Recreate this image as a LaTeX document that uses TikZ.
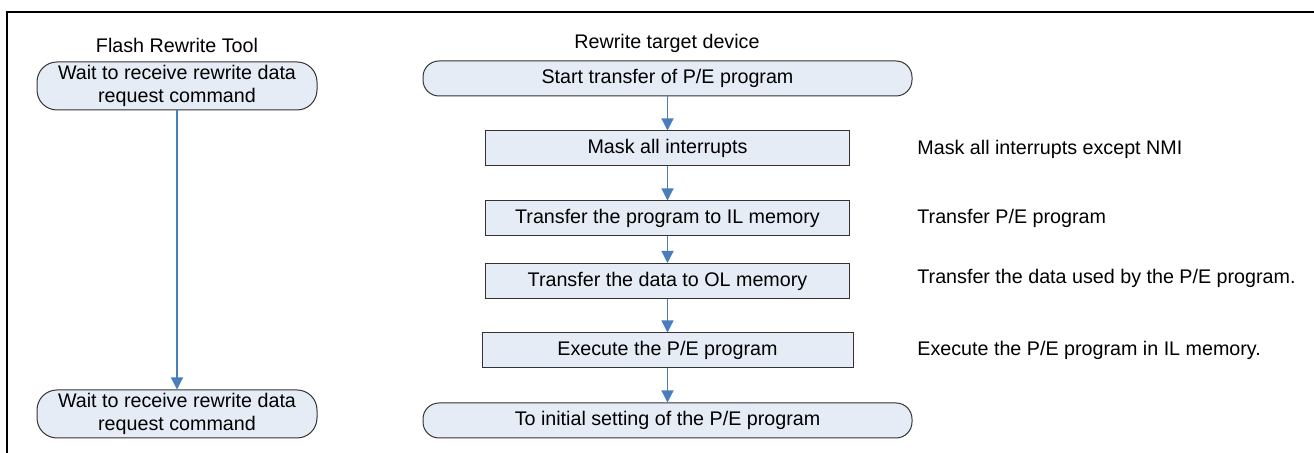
\documentclass[tikz,border=0pt]{standalone}
\usepackage{fontspec}
\setmainfont{Liberation Sans}
\usepackage{tikz}
\usetikzlibrary{arrows.meta,positioning}
\definecolor{boxfill}{HTML}{E6ECF6}
\definecolor{flowblue}{HTML}{4A7EBB}
\tikzstyle{flow}   =[draw=black!80, fill=boxfill, line width=0.5pt,
                     inner sep=0pt, minimum height=17.5pt, align=center,
                     font=\fontsize{9.85}{11.5}\selectfont]
\tikzstyle{term}   =[flow, rounded corners=8pt, minimum width=244.5pt]
\tikzstyle{wait}   =[flow, rounded corners=10pt, minimum width=140pt,
                     minimum height=24pt]
\tikzstyle{stepbox}=[flow, minimum width=182pt]
\tikzstyle{edge}   =[draw=flowblue, line width=0.6pt,
                     -{Triangle[length=6pt, width=6pt]}]
\tikzstyle{note}   =[anchor=west, inner sep=0pt,
                     font=\fontsize{9.85}{11.5}\selectfont]
\tikzstyle{title}  =[inner sep=0pt, font=\fontsize{9.85}{11.5}\selectfont]
\begin{document}
\begin{tikzpicture}[x=0.5pt, y=-0.5pt, node distance=35pt, on grid]
            \useasboundingbox (0,0) rectangle (1314,453);
            \draw[line width=1.1pt] (7,453) |- (1314,12);
            % tool side
            \node[title] (tooltitle) at (177,45) {Flash Rewrite Tool};
            \node[wait] (wait1) at (177,86) {Wait to receive rewrite data\\request command};
            \node[wait] (wait2) at (177,414) {Wait to receive rewrite data\\request command};
            \draw[edge] (wait1) -- (wait2);
            % device side
            \node[title] (devtitle) at (667,43) {Rewrite target device};
            \node[term] (start) at (667.5,78.5) {Start transfer of P/E program};
            \node[stepbox] (mask) [below= of start] {Mask all interrupts};
            \node[stepbox] (toil) [below= of mask] {Transfer the program to IL memory};
            \node[stepbox] (tool) [below=31.25pt of toil] {Transfer the data to OL memory};
            \node[stepbox, minimum width=185.5pt] (exec) [below=34.75pt of tool] {Execute the P/E program};
            \node[term] (initset) [below= of exec] {To initial setting of the P/E program};
            \foreach \a/\b in {start/mask, mask/toil, toil/tool, tool/exec, exec/initset}
                \draw[edge] (\a) -- (\b);
            % notes
            \node[note] (masknote) at (917,149) {Mask all interrupts except NMI};
            \node[note] (ilnote) at (917,218) {Transfer P/E program};
            \node[note] (olnote) at (917,278) {Transfer the data used by the P/E program.};
            \node[note] (execnote) at (917,350) {Execute the P/E program in IL memory.};
        \end{tikzpicture}
\end{document}
